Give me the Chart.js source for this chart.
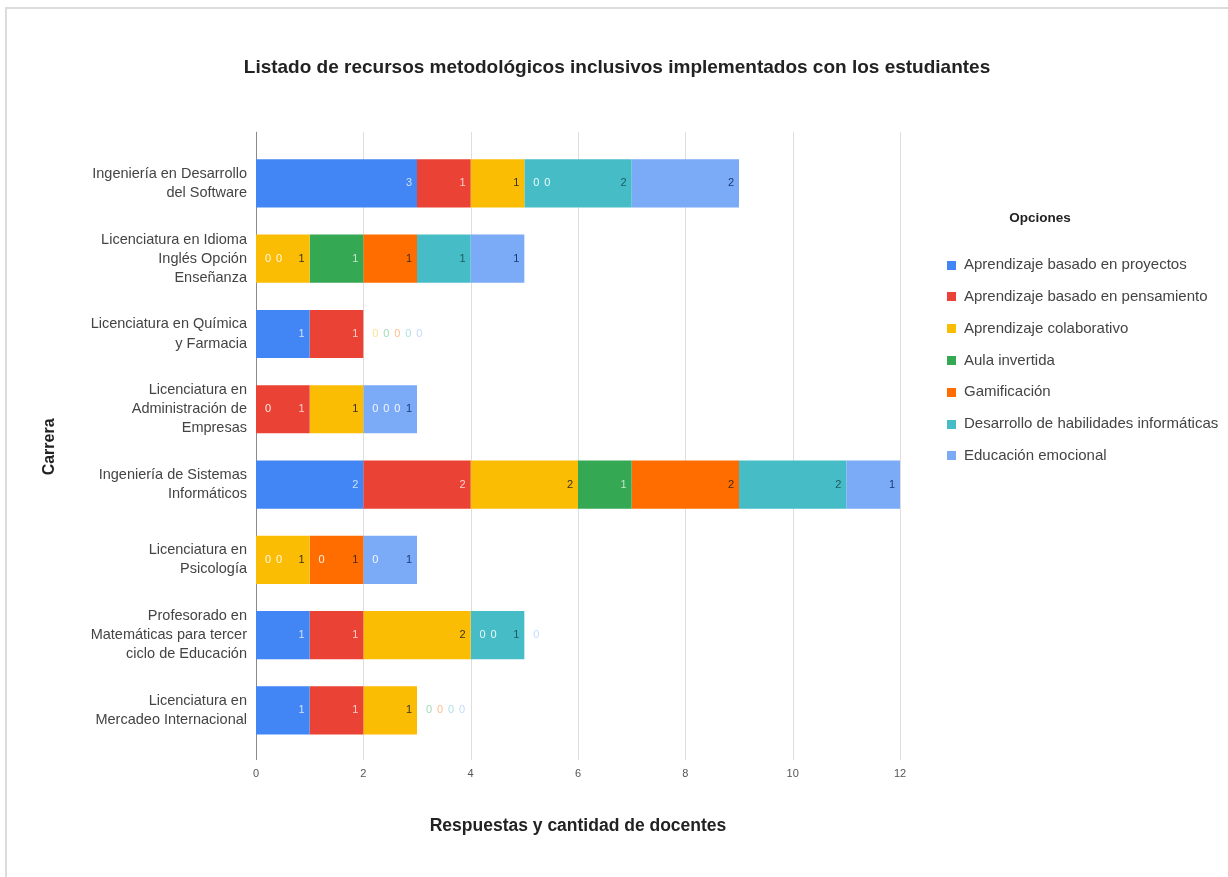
<!DOCTYPE html>
<html>
<head>
<meta charset="utf-8">
<script src="https://cdn.jsdelivr.net/npm/chart.js@4.4.1/dist/chart.umd.min.js"></script>
<style>
  html, body { margin: 0; padding: 0; background: #fff; }
  #wrap { position: relative; width: 1228px; height: 877px; }
</style>
</head>
<body>
<div id="wrap"><canvas id="c" width="1228" height="877"></canvas></div>
<script>
// ---------- data ----------
const categories = [
  ["Ingeniería en Desarrollo", "del Software"],
  ["Licenciatura en Idioma", "Inglés Opción", "Enseñanza"],
  ["Licenciatura en Química", "y Farmacia"],
  ["Licenciatura en", "Administración de", "Empresas"],
  ["Ingeniería de Sistemas", "Informáticos"],
  ["Licenciatura en", "Psicología"],
  ["Profesorado en", "Matemáticas para tercer", "ciclo de Educación"],
  ["Licenciatura en", "Mercadeo Internacional"]
];
const seriesNames = [
  "Aprendizaje basado en proyectos",
  "Aprendizaje basado en pensamiento",
  "Aprendizaje colaborativo",
  "Aula invertida",
  "Gamificación",
  "Desarrollo de habilidades informáticas",
  "Educación emocional"
];
const proyectos    = [3, 0, 1, 0, 2, 0, 1, 1];
const pensamiento  = [1, 0, 1, 1, 2, 0, 1, 1];
const colaborativo = [1, 1, 0, 1, 2, 1, 2, 1];
const aulaInvertida= [0, 1, 0, 0, 1, 0, 0, 0];
const gamificacion = [0, 1, 0, 0, 2, 1, 0, 0];
const habilidades  = [2, 1, 0, 0, 2, 0, 1, 0];
const emocional    = [2, 1, 0, 1, 1, 1, 0, 0];
const xTicks = [0, 2, 4, 6, 8, 10, 12];

const seriesValues = [proyectos, pensamiento, colaborativo, aulaInvertida, gamificacion, habilidades, emocional];
const colors = ["#4285F4", "#EA4335", "#FBBC04", "#34A853", "#FF6D01", "#46BDC6", "#7BAAF7"];
const labelColors = ["rgba(255,255,255,0.75)", "rgba(255,255,255,0.75)", "#3a3220", "rgba(255,255,255,0.7)", "#4a2a10", "#1d5a5f", "#1a3a78"];
const FONT = "'Liberation Sans', Arial, sans-serif";

// ---------- plugins ----------
const frame = {
  id: 'frame',
  beforeDraw(chart) {
    const ctx = chart.ctx;
    ctx.save();
    ctx.fillStyle = '#fff';
    ctx.fillRect(0, 0, chart.width, chart.height);
    ctx.strokeStyle = '#dcdcdc';
    ctx.lineWidth = 2;
    ctx.beginPath();
    ctx.moveTo(6, chart.height);
    ctx.lineTo(6, 8);
    ctx.lineTo(chart.width, 8);
    ctx.stroke();
    ctx.restore();
  },
  beforeDatasetsDraw(chart) {
    const ctx = chart.ctx, xs = chart.scales.x, a = chart.chartArea;
    ctx.save();
    xs.ticks.forEach(t => {
      const px = Math.round(xs.getPixelForValue(t.value)) + 0.5;
      ctx.strokeStyle = t.value === 0 ? '#8a8a8a' : '#dedede';
      ctx.lineWidth = 1;
      ctx.beginPath();
      ctx.moveTo(px, a.top - 14);
      ctx.lineTo(px, a.bottom + 12);
      ctx.stroke();
    });
    ctx.restore();
  }
};

const valueLabels = {
  id: 'valueLabels',
  afterDatasetsDraw(chart) {
    const ctx = chart.ctx, xs = chart.scales.x;
    ctx.save();
    ctx.font = "11px " + FONT;
    ctx.textBaseline = 'middle';
    const n = chart.data.labels.length;
    for (let j = 0; j < n; j++) {
      let end = 0, zeroRun = 0;
      const total = chart.data.datasets.reduce((s, d) => s + d.data[j], 0);
      chart.data.datasets.forEach((ds, i) => {
        const el = chart.getDatasetMeta(i).data[j];
        const v = ds.data[j];
        if (v !== 0) {
          ctx.textAlign = 'right';
          ctx.fillStyle = labelColors[i];
          ctx.fillText(String(v), el.x - 5, el.y);
          end += v;
          zeroRun = 0;
        } else {
          const x = xs.getPixelForValue(end) + 12 + 11 * zeroRun;
          ctx.textAlign = 'center';
          if (total > end) {
            ctx.fillStyle = 'rgba(255,255,255,0.9)';
          } else {
            ctx.globalAlpha = 0.45;
            ctx.fillStyle = colors[i];
          }
          ctx.fillText('0', x, el.y);
          ctx.globalAlpha = 1;
          zeroRun++;
        }
      });
    }
    ctx.restore();
  }
};

const sideLegend = {
  id: 'sideLegend',
  afterDraw(chart) {
    const ctx = chart.ctx;
    ctx.save();
    ctx.textBaseline = 'middle';
    ctx.fillStyle = '#222';
    ctx.font = "bold 13.5px " + FONT;
    ctx.textAlign = 'center';
    ctx.fillText('Opciones', 1040, 218);
    ctx.textAlign = 'left';
    ctx.font = "15px " + FONT;
    chart.data.datasets.forEach((ds, i) => {
      const y = 265 + i * 31.8;
      ctx.fillStyle = ds.backgroundColor;
      ctx.fillRect(947, Math.round(y - 4.5), 9, 9);
      ctx.fillStyle = '#444';
      ctx.fillText(ds.label, 964, y);
    });
    ctx.restore();
  }
};

// ---------- chart ----------
new Chart(document.getElementById('c'), {
  type: 'bar',
  data: {
    labels: categories,
    datasets: seriesValues.map((vals, i) => ({
      label: seriesNames[i],
      data: vals,
      backgroundColor: colors[i],
      borderWidth: 0,
      categoryPercentage: 1.0,
      barPercentage: 0.64
    }))
  },
  options: {
    indexAxis: 'y',
    responsive: false,
    animation: false,
    events: [],
    layout: { padding: { left: 20, right: 14, top: 0, bottom: 34 } },
    plugins: {
      legend: { display: false },
      tooltip: { enabled: false },
      title: {
        display: true,
        text: 'Listado de recursos metodológicos inclusivos implementados con los estudiantes',
        color: '#222',
        font: { family: FONT, size: 19, weight: 'bold', lineHeight: 1.2 },
        padding: { top: 56, bottom: 67 }
      }
    },
    scales: {
      x: {
        stacked: true,
        min: 0, max: 12,
        afterBuildTicks: s => { s.ticks = xTicks.map(v => ({ value: v })); },
        afterFit: s => { s.height = 95; },
        grid: { display: false, drawTicks: false },
        border: { display: false },
        ticks: { color: '#555', padding: 19, font: { family: FONT, size: 11 } },
        title: {
          display: true,
          text: 'Respuestas y cantidad de docentes',
          color: '#222',
          font: { family: FONT, size: 17.5, weight: 'bold', lineHeight: 1.2 },
          padding: { top: 0, bottom: 6 }
        }
      },
      y: {
        stacked: true,
        afterFit: s => { s.width = 236; },
        grid: { display: false, drawTicks: false },
        border: { display: false },
        ticks: { color: '#444', padding: 9, font: { family: FONT, size: 14.5, lineHeight: 1.32 } },
        title: {
          display: true,
          text: 'Carrera',
          color: '#222',
          font: { family: FONT, size: 16, weight: 'bold', lineHeight: 1.2 },
          padding: { top: 20, bottom: 0 }
        }
      },
      legendSpace: {
        type: 'category',
        position: 'right',
        afterFit: s => { s.width = 314; },
        grid: { display: false, drawTicks: false },
        border: { display: false },
        ticks: { display: false }
      }
    }
  },
  plugins: [frame, valueLabels, sideLegend]
});
</script>
</body>
</html>
